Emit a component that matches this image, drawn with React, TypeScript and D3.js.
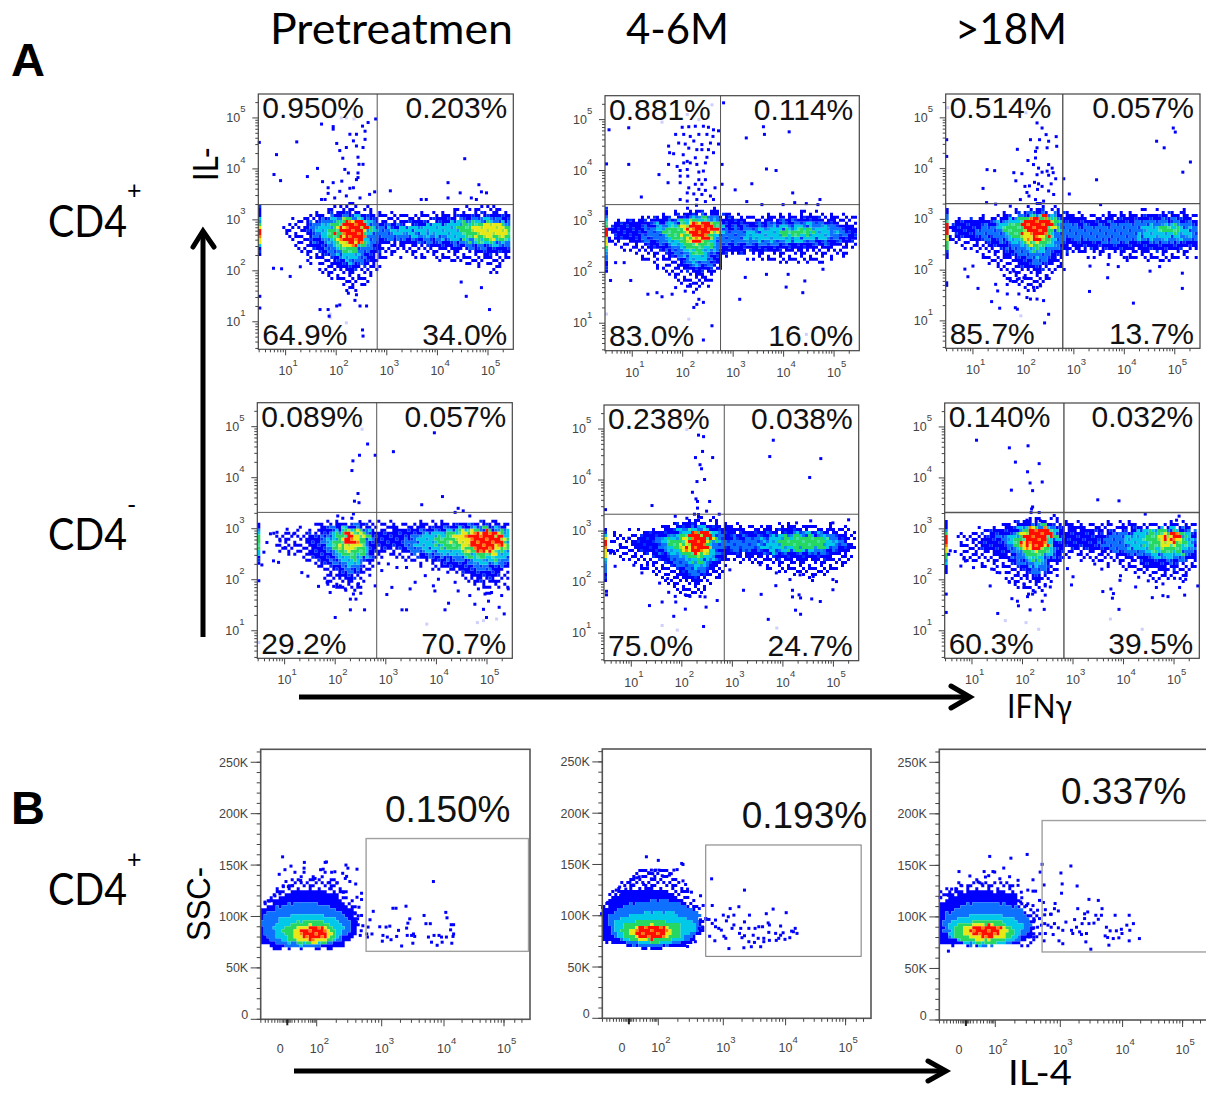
import React from "react";
import * as d3 from "d3";

// ---------- Labels ----------
const columnTitles = ["Pretreatmen", "4-6M", ">18M"];
const quadrantLabels = [
  ["0.950%", "0.203%", "64.9%", "34.0%"],
  ["0.881%", "0.114%", "83.0%", "16.0%"],
  ["0.514%", "0.057%", "85.7%", "13.7%"],
  ["0.089%", "0.057%", "29.2%", "70.7%"],
  ["0.238%", "0.038%", "75.0%", "24.7%"],
  ["0.140%", "0.032%", "60.3%", "39.5%"],
];
const gateLabels = ["0.150%", "0.193%", "0.337%"];
const decadeTicks = [1, 2, 3, 4, 5];
const ssc_ticks = [0, 50, 100, 150, 200, 250];

// ---------- Quadrant gates (log10 IFNg, log10 IL-) ----------
const quadGateX = [2.81, 2.75, 2.78, 2.82, 2.84, 2.82];
const quadGateY = [3.3, 3.33, 3.31, 3.32, 3.33, 3.32];

// ---------- Density outlines: sparse, blue, azure, cyan, green, yellow, red (log10 x, log10 y) ----------
const density11 = [
  [[1.0,2.9,1.6,3.15,2.2,3.35,2.8,3.2,3.4,3.1,4.2,3.2,5.0,3.3,5.5,3.2,5.5,2.15,5.1,1.95,4.8,2.1,4.0,2.2,3.2,2.3,2.85,2.1,2.6,1.75,2.3,1.55,2.0,1.75,1.6,2.1,1.1,2.5]],
  [[1.35,2.9,1.7,3.05,2.2,3.15,2.65,3.12,2.9,2.95,3.4,2.95,4.0,3.02,4.6,3.1,5.2,3.12,5.5,3.05,5.5,2.4,5.1,2.3,4.7,2.4,4.0,2.48,3.2,2.55,2.9,2.5,2.7,2.2,2.4,1.95,2.15,2.0,1.8,2.3,1.4,2.6]],
  [[1.5,2.9,1.9,3.05,2.3,3.1,2.65,3.05,2.85,2.9,3.2,2.85,3.9,2.9,4.5,3.0,5.1,3.05,5.5,2.98,5.5,2.5,5.0,2.42,4.6,2.5,4.0,2.58,3.2,2.62,2.85,2.6,2.6,2.3,2.4,2.1,2.1,2.2,1.8,2.45,1.5,2.7]],
  [[1.65,2.9,2.0,3.0,2.4,3.08,2.65,3.0,2.75,2.8,2.55,2.45,2.3,2.15,2.15,2.25,1.85,2.55,1.65,2.75],[3.05,2.82,3.6,2.85,4.3,2.95,5.0,3.0,5.5,2.92,5.5,2.58,5.0,2.5,4.6,2.58,3.9,2.68,3.3,2.7,3.05,2.72]],
  [[1.85,2.88,2.2,3.03,2.55,3.02,2.68,2.8,2.5,2.5,2.3,2.25,2.15,2.35,1.95,2.6,1.85,2.75],[4.4,2.9,4.9,2.97,5.45,2.9,5.5,2.65,5.0,2.55,4.6,2.62,4.4,2.75]],
  [[2.0,2.85,2.25,3.0,2.55,2.98,2.62,2.75,2.45,2.5,2.25,2.4,2.1,2.55],[4.75,2.88,5.1,2.96,5.4,2.85,5.35,2.68,5.0,2.62,4.75,2.72]],
  [[2.04,2.85,2.28,3.0,2.55,2.95,2.6,2.72,2.42,2.52,2.2,2.52,2.05,2.7]],
];
const density12 = [
  [[0.55,3.0,1.5,3.12,2.2,3.3,2.7,3.2,3.4,3.12,4.2,3.2,5.0,3.2,5.5,3.05,5.5,2.5,4.8,2.2,4.0,2.15,3.2,2.3,2.85,2.3,2.6,1.8,2.3,1.55,1.9,1.75,1.5,2.15,1.0,2.4,0.55,2.6]],
  [[0.55,2.95,1.3,3.03,1.9,3.12,2.6,3.18,2.85,3.1,3.4,3.0,4.0,3.08,4.6,3.1,5.1,3.0,5.45,2.85,5.45,2.65,5.0,2.5,4.0,2.42,3.3,2.4,2.85,2.4,2.65,2.1,2.35,1.9,2.1,2.0,1.8,2.3,1.4,2.5,1.0,2.62,0.55,2.7]],
  [[1.2,2.88,1.8,3.0,2.3,3.13,2.75,3.1,2.85,2.85,3.2,2.88,4.0,2.98,4.7,2.98,5.2,2.85,5.2,2.65,4.7,2.58,4.0,2.55,3.2,2.55,2.85,2.55,2.6,2.25,2.35,2.05,2.1,2.2,1.7,2.5,1.2,2.7]],
  [[1.5,2.9,1.9,3.0,2.3,3.1,2.72,3.05,2.8,2.8,2.55,2.4,2.3,2.15,2.05,2.35,1.7,2.6],[3.2,2.75,3.8,2.88,4.5,2.93,5.0,2.85,5.0,2.68,4.4,2.62,3.7,2.62,3.2,2.65]],
  [[1.65,2.85,2.0,2.98,2.35,3.06,2.68,3.0,2.72,2.8,2.5,2.5,2.3,2.32,2.05,2.5,1.75,2.68],[3.9,2.82,4.5,2.86,4.6,2.74,4.0,2.72]],
  [[1.95,2.85,2.2,3.0,2.6,2.98,2.65,2.8,2.45,2.58,2.25,2.52,2.05,2.68]],
  [[2.06,2.85,2.3,3.0,2.58,2.97,2.62,2.8,2.45,2.64,2.25,2.62,2.08,2.75]],
];
const density13 = [
  [[0.55,3.0,1.3,3.05,1.8,3.2,2.4,3.3,2.9,3.1,3.5,3.1,4.2,3.18,5.0,3.2,5.5,3.1,5.5,2.3,5.0,2.15,4.3,2.2,3.5,2.25,2.9,2.3,2.65,1.85,2.3,1.6,1.8,1.65,1.5,2.0,1.1,2.35,0.55,2.55]],
  [[0.55,2.95,1.3,3.0,1.8,3.1,2.3,3.2,2.7,3.15,2.9,3.02,3.5,3.0,4.2,3.08,5.0,3.1,5.5,3.0,5.5,2.5,5.0,2.38,4.2,2.4,3.4,2.4,2.85,2.45,2.6,2.15,2.3,1.95,1.9,2.1,1.5,2.45,1.0,2.6,0.55,2.7]],
  [[1.1,2.85,1.7,3.0,2.2,3.15,2.65,3.13,2.85,2.95,3.3,2.88,4.2,2.95,5.0,3.0,5.5,2.9,5.5,2.6,4.9,2.5,4.3,2.55,3.4,2.55,2.85,2.6,2.55,2.3,2.3,2.1,2.0,2.3,1.6,2.55,1.1,2.7]],
  [[1.45,2.9,1.85,3.02,2.25,3.1,2.65,3.08,2.75,2.9,2.55,2.45,2.3,2.25,2.0,2.4,1.6,2.65],[4.3,2.85,4.8,2.92,5.3,2.85,5.3,2.65,4.8,2.6,4.3,2.65]],
  [[1.65,2.88,2.0,3.02,2.3,3.08,2.62,3.05,2.68,2.85,2.45,2.5,2.25,2.35,2.0,2.55,1.7,2.72],[4.7,2.85,5.05,2.88,5.15,2.75,4.75,2.72]],
  [[1.92,2.85,2.1,3.0,2.4,3.07,2.58,2.97,2.55,2.78,2.35,2.55,2.15,2.5,1.95,2.7]],
  [[1.98,2.85,2.15,3.03,2.42,3.05,2.55,2.93,2.47,2.7,2.25,2.58,2.03,2.72]],
];
const density21 = [
  [[0.8,2.9,1.4,3.0,2.0,3.2,2.6,3.15,3.2,3.1,4,3.15,5.5,3.15,5.5,1.9,5.0,1.75,4.4,2.1,3.5,2.3,3.0,2.5,2.75,2.2,2.5,1.7,2.0,1.8,1.6,2.3,1.2,2.45,0.8,2.55]],
  [[1.4,2.8,1.7,2.98,2.1,3.12,2.65,3.05,2.85,2.95,3.5,3.02,4.2,3.08,5.0,3.12,5.5,3.05,5.5,2.45,5.2,2.05,4.9,1.95,4.5,2.2,3.9,2.4,3.4,2.55,3.0,2.6,2.72,2.5,2.5,2.1,2.25,1.95,1.95,2.2,1.6,2.45]],
  [[1.75,2.85,2.0,3.0,2.4,3.05,2.68,3.0,2.72,2.65,2.55,2.3,2.3,2.15,2.05,2.3,1.8,2.55],[3.4,2.85,4.0,2.97,4.6,3.05,5.5,3.0,5.5,2.5,5.2,2.25,4.9,2.15,4.6,2.35,4.1,2.45,3.4,2.55]],
  [[1.85,2.85,2.1,3.0,2.45,3.03,2.65,2.95,2.68,2.65,2.5,2.35,2.3,2.25,2.0,2.45],[3.6,2.85,4.1,2.95,4.6,3.02,5.45,2.97,5.5,2.55,5.2,2.35,4.9,2.3,4.5,2.45,3.9,2.55,3.6,2.65]],
  [[1.95,2.85,2.2,2.98,2.5,3.0,2.62,2.9,2.62,2.65,2.42,2.42,2.2,2.45,2.0,2.62],[4.0,2.85,4.5,2.97,5.0,3.0,5.4,2.92,5.42,2.6,5.1,2.42,4.8,2.45,4.3,2.6,4.0,2.68]],
  [[2.1,2.8,2.3,2.95,2.55,2.88,2.5,2.62,2.3,2.55,2.12,2.65],[4.3,2.85,4.6,2.93,5.0,2.98,5.35,2.85,5.3,2.58,5.0,2.5,4.6,2.6,4.35,2.72]],
  [[2.18,2.8,2.32,2.92,2.47,2.84,2.42,2.68,2.28,2.64],[4.6,2.87,4.95,2.98,5.3,2.87,5.25,2.6,5.0,2.52,4.68,2.63]],
];
const density22 = [
  [[0.6,2.95,1.2,3.0,1.8,3.15,2.4,3.3,2.9,3.12,3.6,3.1,4.4,3.15,5.1,3.1,5.5,2.95,5.5,2.6,5.1,2.2,4.5,2.05,3.9,2.2,3.0,2.4,2.7,2.05,2.4,1.75,2.0,1.7,1.6,2.1,1.1,2.35,0.6,2.55]],
  [[1.0,2.85,1.7,3.05,2.1,3.15,2.6,3.15,2.85,3.02,3.5,3.0,4.2,3.05,5.0,3.02,5.3,2.85,5.3,2.62,4.9,2.45,4.2,2.42,3.6,2.5,3.0,2.55,2.8,2.45,2.55,2.15,2.3,1.98,2.0,2.1,1.7,2.4,1.2,2.6]],
  [[1.45,2.85,1.9,3.0,2.3,3.1,2.65,3.05,2.8,2.85,3.4,2.88,4.2,2.97,4.9,2.95,5.2,2.8,5.1,2.62,4.5,2.55,3.6,2.6,2.8,2.65,2.55,2.3,2.3,2.1,2.0,2.3,1.6,2.6]],
  [[1.6,2.85,1.95,2.98,2.3,3.08,2.65,3.03,2.72,2.8,2.55,2.42,2.3,2.25,2.0,2.42,1.7,2.65],[3.5,2.78,3.9,2.92,4.6,2.95,5.05,2.85,5.0,2.65,4.4,2.58,3.7,2.62]],
  [[1.75,2.82,2.05,2.96,2.35,3.03,2.6,2.98,2.65,2.78,2.48,2.5,2.28,2.38,2.05,2.55,1.8,2.7],[3.9,2.85,4.4,2.92,4.9,2.85,4.85,2.68,4.3,2.62,3.9,2.7]],
  [[1.98,2.8,2.2,2.96,2.42,3.0,2.58,2.9,2.55,2.68,2.38,2.5,2.18,2.55,2.0,2.68]],
  [[2.08,2.78,2.25,2.98,2.42,3.0,2.55,2.87,2.5,2.62,2.32,2.54,2.12,2.66]],
];
const density23 = [
  [[0.7,2.9,1.3,3.0,1.9,3.2,2.5,3.28,3.0,3.1,4.0,3.12,5.0,3.18,5.5,3.1,5.5,2.3,5.2,2.0,4.7,1.95,4.0,2.2,3.2,2.4,2.8,2.4,2.6,1.95,2.3,1.75,1.9,1.85,1.5,2.2,1.0,2.35,0.7,2.5]],
  [[1.1,2.8,1.5,3.0,2.0,3.12,2.5,3.15,2.8,3.02,3.4,2.95,4.2,3.0,5.0,3.05,5.5,2.98,5.5,2.45,5.1,2.3,4.8,2.2,4.4,2.3,3.8,2.55,2.95,2.6,2.75,2.5,2.5,2.2,2.25,2.0,2.0,2.15,1.7,2.45,1.3,2.6]],
  [[1.55,2.8,1.85,3.0,2.2,3.1,2.6,3.08,2.75,2.9,2.55,2.4,2.3,2.1,2.05,2.3,1.7,2.55],[3.6,2.85,4.2,2.95,5.0,3.02,5.4,2.95,5.4,2.5,5.0,2.35,4.5,2.42,3.9,2.55,3.6,2.65]],
  [[1.72,2.85,2.0,3.02,2.35,3.08,2.62,3.02,2.72,2.85,2.5,2.45,2.3,2.2,2.05,2.4,1.8,2.65],[4.0,2.85,4.4,2.97,5.0,3.0,5.35,2.92,5.3,2.55,5.0,2.42,4.6,2.48,4.1,2.65]],
  [[1.82,2.85,2.1,3.02,2.4,3.05,2.6,2.97,2.62,2.8,2.42,2.5,2.25,2.35,2.05,2.5,1.85,2.68],[4.35,2.85,4.7,2.97,5.1,2.97,5.25,2.85,5.15,2.55,4.85,2.5,4.5,2.6]],
  [[1.92,2.85,2.15,3.0,2.45,3.03,2.55,2.9,2.48,2.68,2.25,2.52,2.05,2.62],[4.65,2.82,4.9,2.95,5.15,2.88,5.05,2.65,4.75,2.62]],
  [[1.98,2.82,2.2,3.0,2.47,3.02,2.56,2.87,2.44,2.66,2.22,2.58,2.03,2.68],[4.9,2.92,5.14,2.9,5.08,2.76,4.86,2.76]],
];

// Pile-up on the left axis: [density level, log10 low, log10 high]
const rail11 = [[1,2.3,3.3],[3,2.45,3.05],[4,2.5,2.95],[5,2.55,2.9],[6,2.62,2.85]];
const rail12 = [[1,2.0,3.3],[2,2.25,3.1],[3,2.35,3.05],[4,2.45,3.0],[5,2.55,2.9],[6,2.68,2.85]];
const rail13 = [[1,2.2,3.2],[2,2.35,3.1],[4,2.4,3.0],[5,2.55,2.95],[6,2.68,2.92]];
const rail21 = [[1,2.3,3.1],[3,2.5,2.98],[4,2.6,2.9]];
const rail22 = [[1,2.0,3.05],[2,2.2,3.0],[3,2.35,2.95],[5,2.5,2.88],[6,2.62,2.8]];
const rail23 = [[1,2.1,3.15],[3,2.3,3.0],[4,2.4,2.95],[5,2.55,2.9],[6,2.65,2.88]];

// ---------- Individual events (log10 x, log10 y) ----------
const events11 = [1.71,4.88,1.94,4.83,1.94,4.78,.48,4.52,1.22,4.53,.82,4.28,2.01,4.5,2.27,4.68,2.4,4.68,2.52,4.84,2.57,4.74,2.63,4.91,2.4,4.45,2.34,4.55,2.53,4.42,2.57,4.58,2.07,4.36,2.2,4.42,2.13,4.21,2.43,4.23,2.45,4.09,2.53,4.09,2.17,3.99,2.24,3.92,2.43,3.92,2.43,3.83,.77,3.89,.9,3.77,1.43,3.85,1.63,4.01,1.73,3.75,1.94,3.73,2.11,3.76,2.4,3.79,2.34,3.63,2.27,3.62,1.84,3.63,1.84,3.52,2.07,3.56,1.71,3.4,1.78,3.4,1.97,3.43,2.2,3.47,2.47,3.43,2.66,3.5,2.76,3.55,2.78,4.98,
  4.54,4.2,3.07,3.57,3.68,3.4,3.78,3.4,4.21,3.73,4.45,3.53,4.21,3.43,4.82,3.69,4.87,3.55,4.97,3.53,4.67,3.43,4.77,3.4,
  1.86,1.11,1.68,1.24,1.84,1.24,2.01,1.31,2.07,1.33,2.24,1.56,2.4,1.53,2.37,1.42,2.47,1.31,2.6,1.31,2.52,.84,2.53,.72,4.57,1.5,4.87,1.67,5.03,1.24,4.47,1.78,.76,2.05,.92,2.04,1.09,1.89,1.29,2.08,.49,1.5,.49,1.27];
const events12 = [.54,4.8,.93,4.84,.49,4.13,.93,4.12,1.53,3.92,1.71,3.76,1.18,3.48,2.81,5.33,1.99,4.85,2.12,4.86,2.25,4.87,2.41,4.87,2.51,4.85,2.61,4.8,2.71,4.78,1.86,4.71,2.02,4.71,2.15,4.67,2.32,4.71,2.48,4.71,2.6,4.67,1.92,4.54,2.05,4.52,2.22,4.58,2.38,4.51,2.55,4.54,2.71,4.52,1.72,4.48,1.74,4.35,1.82,4.33,2.01,4.31,2.12,4.44,2.28,4.41,2.38,4.41,2.51,4.41,2.61,4.35,2.09,4.18,2.25,4.25,2.48,4.26,2.45,4.15,1.72,4.12,1.89,4.08,2.02,4.15,2.15,4.15,2.28,4.12,1.95,4.0,2.09,4.02,2.32,3.97,2.41,3.99,1.95,3.89,2.1,3.89,2.32,3.82,2.45,3.82,1.95,3.76,2.25,3.73,2.38,3.73,2.64,3.66,2.12,3.66,2.32,3.63,2.45,3.61,2.09,3.56,2.22,3.54,2.38,3.53,2.55,3.5,1.95,3.43,2.09,3.4,2.28,3.43,2.45,3.39,2.61,3.43,2.78,4.12,2.78,3.73,
  3.6,4.86,3.62,4.71,3.26,4.64,4.11,4.76,3.66,4.03,3.85,4.0,3.37,3.74,3.04,3.62,4.18,3.56,3.27,3.39,3.57,3.33,3.99,3.33,4.22,3.37,4.45,3.35,4.72,3.43,4.68,3.33,
  1.31,1.57,1.49,1.6,1.59,1.52,1.79,1.57,1.86,1.7,2.05,1.63,2.15,1.76,2.32,1.47,2.28,1.37,2.22,1.31,2.41,1.41,2.58,.95,2.41,.67,3.13,1.47,4.05,1.71,4.42,1.83,4.38,1.6,.57,1.84,.97,1.84,.67,2.19,.84,2.19,3.24,1.9,3.66,1.96,4.09,1.96,4.78,2.06];
const events13 = [.48,4.57,.48,4.24,2.27,4.9,2.37,4.8,2.45,4.67,2.65,4.63,2.5,4.54,2.32,4.57,2.14,4.57,2.66,4.44,2.47,4.41,2.27,4.41,1.88,4.38,2.24,4.34,2.09,4.16,2.24,4.21,2.2,4.08,2.3,4.01,2.5,4.08,2.57,4.01,1.28,3.98,1.43,3.96,1.81,3.92,1.97,3.9,2.37,3.93,2.27,3.88,2.47,3.95,2.5,3.87,2.59,3.92,1.85,3.76,2.03,3.65,2.12,3.66,2.22,3.73,2.3,3.7,2.37,3.65,2.55,3.7,2.64,3.8,2.8,3.8,1.2,3.61,2.28,3.59,2.5,3.56,2.07,3.53,2.11,3.46,2.6,3.49,1.94,3.39,2.24,3.39,2.4,3.36,1.27,3.33,1.45,3.3,1.74,3.26,
  4.97,4.8,5.01,4.72,4.64,4.54,4.79,4.41,5.31,4.13,5.16,3.93,3.45,3.78,2.91,3.5,3.53,3.29,
  .84,2.02,1.0,2.08,.9,1.87,1.1,1.64,1.37,1.38,1.53,1.25,1.45,1.72,1.49,1.59,1.84,1.26,1.88,1.23,2.14,1.43,2.27,1.43,2.4,1.4,2.5,1.13,2.42,.96,1.68,1.53,1.91,1.53,2.07,1.46,2.2,1.66,2.34,1.69,2.47,1.89,1.74,1.79,1.81,1.98,1.88,1.82,2.01,1.85,3.31,1.58,4.18,1.35,3.67,1.85,3.88,2.07,4.51,1.98,4.7,2.07,5.15,1.94,5.15,1.64,3.32,2.08,3.68,2.11,4.05,2.25,.48,1.75,.48,1.7];
const events21 = [2.64,4.66,2.48,4.44,2.35,4.33,2.33,4.14,2.45,3.69,2.38,3.54,2.47,3.51,2.79,4.44,2.05,3.25,2.36,3.29,2.49,3.14,
  3.96,4.88,3.15,4.51,4.12,3.63,3.71,3.47,4.43,3.4,4.53,3.35,4.37,3.32,4.66,3.25,
  2.0,1.26,2.3,1.41,2.58,1.41,2.3,1.62,2.41,1.62,2.36,1.72,1.67,1.87,1.84,1.95,1.9,1.75,1.97,1.87,1.46,2.07,1.34,2.14,.49,1.98,2.79,1.88,2.1,1.88,2.2,1.82,2.46,1.92,
  3.02,1.71,3.12,1.85,3.32,1.41,3.41,1.41,3.48,1.82,3.58,1.95,3.94,1.88,3.97,1.78,4.17,1.41,4.24,1.54,4.43,1.78,4.66,1.69,4.76,1.52,4.93,1.42,4.99,1.26,5.03,1.58,5.24,1.46,5.34,1.33,5.42,1.82,5.29,1.69,5.09,1.75,4.96,1.72,4.83,1.82,4.37,1.95,4.04,2.01,3.78,2.08,3.22,2.24,2.92,2.18,3.05,2.31,3.41,2.24,
  .55,2.29,.88,2.34,.78,2.37,.72,2.9,.85,2.93,1.05,2.99,1.18,2.9,1.31,3.03,.91,2.76,1.01,2.63,.59,2.54,.65,2.73];
const events22 = [2.33,4.88,2.43,4.85,2.41,4.56,2.27,4.44,2.61,4.44,2.36,4.3,2.39,4.22,2.3,3.97,2.45,4.01,2.21,3.76,2.28,3.63,2.31,3.58,2.55,3.58,2.31,3.45,2.49,3.39,1.41,3.5,.49,3.42,2.25,3.33,2.74,3.33,1.87,3.29,2.1,3.25,2.33,3.27,
  3.81,4.78,3.74,4.46,4.75,4.42,4.53,4.05,4.55,3.2,5.3,3.22,4.27,3.16,4.99,3.16,
  1.56,1.98,1.72,2.07,1.74,1.8,1.36,1.54,1.61,1.61,1.87,1.72,1.88,1.61,2.07,1.75,2.16,1.72,2.36,1.72,2.46,1.71,2.7,1.64,2.07,1.47,1.84,1.33,2.48,1.51,2.43,1.13,
  3.22,1.84,3.57,1.76,3.86,1.93,4.19,1.84,4.19,1.71,4.32,1.75,4.35,1.69,4.57,1.67,4.74,1.62,4.25,1.45,4.35,1.37,3.71,1.27,4.99,1.85,4.14,2.05,4.34,2.14,4.6,2.11,4.99,2.05,5.06,2.01,3.87,2.18,3.55,2.34,2.95,2.24,
  .68,2.31,1.05,2.33,1.21,2.18,1.32,2.33,.51,1.82,.51,1.75,.59,2.57,.78,2.73,.95,2.86,.65,2.6];
const events23 = [1.09,4.74,1.74,4.59,2.11,4.63,1.86,4.31,2.33,4.28,2.1,4.12,2.15,3.9,2.39,3.92,1.78,3.76,2.2,3.75,2.2,3.43,2.18,3.39,2.17,3.32,2.09,3.17,2.35,3.16,
  3.49,3.57,3.91,3.55,4.43,3.29,5.1,3.25,5.05,3.17,
  1.36,1.88,1.74,1.95,1.79,1.63,1.9,1.58,1.92,1.49,1.51,1.34,2.15,1.41,2.03,1.92,2.03,1.85,2.12,1.72,2.1,1.67,2.25,1.76,2.2,1.72,2.39,1.58,2.45,1.7,2.43,1.42,2.55,1.86,2.45,1.88,
  .78,2.27,.87,2.37,1.03,2.24,.84,2.41,1.39,2.21,1.55,2.14,.49,1.36,.49,1.72,.54,2.5,.57,2.57,
  2.89,2.22,3.0,2.06,2.97,1.9,3.43,2.31,3.57,2.21,3.59,1.77,3.75,1.82,3.8,1.73,3.78,1.64,3.91,1.42,3.93,1.99,3.94,2.08,4.24,1.86,4.3,2.05,4.65,1.85,4.57,1.65,4.78,1.69,4.88,1.67,5.01,2.03,5.11,1.85,5.21,1.7,5.23,2.01,5.47,1.88,4.78,1.92,4.49,1.98];

const faint11 = [1.88,1.15,1.88,1.08,2.2,.98,2.1,5.0,2.2,5.0,2.35,4.98];
const faint12 = [2.12,1.08,4.45,.78,.49,1.18,2.09,5.1,2.32,5.0,2.58,5.29,1.59,4.95];
const faint13 = [1.95,1.1,.5,5.2,2.05,5.3,2.2,5.25,2.05,5.1];
const faint21 = [3.81,1.13,4.81,1.16,4.93,1.2,5.19,1.23,.49,.77,2.53,4.95];
const faint22 = [1.61,1.15,1.91,1.06,3.88,1.1,2.1,4.99];
const faint23 = [1.66,1.2,2.07,1.16,2.32,1.03,4.37,1.03,3.74,1.23];

// ---------- Panel B: outlines in (display decade, SSC in K) ----------
const bGates = [[2.76,5.41,66.1,175.8],[2.73,5.26,60.4,169],[2.72,5.6,66,193.5]];
const bBlue1 = [-1.8,72,-1.8,104,-.73,117,.41,125,1.77,126,2.31,121,2.51,107,2.62,91,2.56,78,2.31,69,-.95,68.6,-1.75,74];
const bBlue2 = [-1.86,104,-1.33,113,-.86,120,-.05,125,1.12,127,2.11,124,2.37,114,2.57,102,2.68,94,2.68,84,2.47,71,1.12,67,-1.79,75];
const bBlue3 = [-1.8,112,-1.19,120,-.07,124,1.28,125,2.25,124,2.35,112,2.45,98,2.55,85.5,2.5,75.8,2.09,72,-.52,72,-1.75,73];
const bSparse1 = [-1.8,104,-1.6,116,-.6,128,.4,137,1.8,139,2.3,136,2.55,118,2.68,100,2.7,85,2.4,69,-1.75,72];
const bSparse2 = [-1.86,110,-1.2,125,-.4,135,1.0,146,2.1,146,2.45,128,2.68,105,2.75,90,2.47,71,-1.79,75];
const bSparse3 = [-1.8,125,-.6,133,1.3,136,2.25,132,2.4,122,2.6,105,2.7,85,2.55,72,-1.8,72];
// azure, cyan, green, yellow, red: [left, right, low, high]
const bLevels1 = [[-1.75,2.51,69.4,114],[-.95,2.41,72,102.6],[-.27,2.31,73,96],[.41,2.23,75,92],[.85,2.17,76.5,90]];
const bLevels2 = [[-1.44,2.65,69.8,115],[-1.09,2.55,72,104],[-.63,2.37,73.7,96],[-.05,2.21,76.3,91.6],[.4,2.13,77,90]];
const bLevels3 = [[-1.53,2.55,71.6,114.5],[-1.19,2.43,72.6,103],[-.85,2.3,74,96.8],[-.18,2.19,77.4,93.5],[.25,2.09,79.5,93]];
const bEvents1 = [-.32,158,-.55,141,-.16,145.5,.25,149,.52,143,1.16,152.6,1.14,147,1.14,143,2.13,152.6,2.15,153,2.06,145.5,2.1,146,2.13,143,2.23,143,2.28,143.5,2.45,150,2.48,147,2.62,146,2.4,142,2.44,137,2.51,134,2.46,139,2.6,131.6,1.89,137,.91,135,-.09,134,-.27,129,.07,129,.36,130,-1.52,114,-1.23,115,-.84,120,-.5,122,2.2,133,2.31,132.6,2.2,127,2.41,123.5,2.69,122.6,2.62,118.7,2.69,116.5,2.65,109,2.59,102.6,2.69,101,2.63,97.7,2.71,91,2.61,94.5,2.67,81.6,2.77,83,2.79,89.7,
  2.87,105,2.82,96.8,2.85,83,2.78,80,2.97,90,3.01,76,3.02,81.6,3.07,89.7,3.09,80,3.13,90.6,3.15,77.4,3.18,108,3.23,108,3.24,80.6,3.27,86.5,3.32,71.3,3.39,110,3.45,97.7,3.42,93.5,3.4,88.7,3.41,81.6,3.48,81.6,3.51,83,3.5,74,3.53,80.6,3.68,101,3.71,93,3.78,93,3.83,134,3.75,80,3.8,75,3.84,81.6,3.89,72,3.92,81.6,3.97,75,3.96,80,4.04,80,4.03,104,4.05,98.7,4.12,92,4.16,92,4.11,87,4.16,83,4.15,80.6,4.13,74];
const bEvents2 = [1.19,157.5,2,154,2.36,151,2.38,150,2.29,145,2.24,144.5,2.01,144.5,1.81,144.5,1.53,144.5,1.35,142,1.63,141,.53,137,.7,138,1.53,136,2.06,139,2.17,139.6,2.2,141,2.38,134,2.42,130.5,2.45,126,2.51,123,2.65,119.5,2.69,110,2.55,109,2.63,107,-.63,128,-.86,125,-.56,120,-.21,126,-1.44,113,-1.79,108,-1.86,102,.07,132.5,.3,130,1,130.5,2.65,96,2.68,89,2.63,87.7,2.57,74.7,2.45,70,
  2.82,136,2.83,110,2.74,96.4,2.78,96.4,2.83,92.5,2.88,95.8,2.88,89.3,2.93,87.7,2.97,86,2.79,80,2.87,75.6,3,100.6,3.01,80,3.04,78,3.05,95,3.08,99,3.11,107,3.17,100.6,3.17,91,3.14,87.7,3.09,68,3.25,108.8,3.28,87.7,3.26,82.8,3.3,78.6,3.34,125,3.34,94,3.34,80.5,3.41,87.7,3.42,100.6,3.41,74.7,3.33,68.8,3.45,69.8,3.48,81,3.5,74,3.51,87.7,3.57,89.3,3.56,78,3.63,89.3,3.65,78,3.65,74.7,3.6,69.8,3.72,93,3.73,83.8,3.69,102,3.74,91,3.74,76,3.8,106.5,3.84,82.8,3.85,76,3.89,78,3.92,90,3.92,81,3.96,83.4,3.99,77,4.01,103,4.07,78.6,4.1,85,4.16,87.7,4.19,82.8,4.13,84.4];
const bEvents3 = [1.62,158.7,2.24,157,2.49,160.6,2.13,147.4,-.47,144,1.24,144,1.84,144,.27,139.7,1.33,138.7,1.55,140,1.96,143.5,2.07,137,2.22,139,2.35,135.5,2.58,136,.83,133.9,-.34,130.6,-.63,127,-.97,127,-1.19,121,-1.75,119,1.1,132,2.35,130.6,2.5,126,2.58,125,2.62,125,2.4,124,2.39,114.5,2.48,111,2.58,111,2.68,116,2.65,106.5,2.6,96.8,2.68,98.4,2.58,88.7,2.65,90,2.71,92,2.59,80.6,2.52,80.6,-1.19,66.8,
  2.72,151,2.69,143.5,3.01,142.6,3.17,149.4,3.03,132,3.27,130,3.02,123,2.75,131,2.74,114,2.77,107,2.86,102.6,2.91,108,2.92,113,2.97,105.8,2.76,102,2.85,102.6,2.76,93.5,2.81,92,2.86,90,2.91,93.5,2.97,89.4,2.77,83.9,2.89,82.9,2.75,76.8,2.98,76.8,3.04,74,3.04,87,3.09,95,3.18,87,3.2,83.9,3.23,97.4,3.28,108,3.26,90,3.31,85.5,3.34,83,3.39,98.4,3.39,103,3.44,104.8,3.46,117,3.41,75.8,3.49,68.7,3.42,83.9,3.35,93.5,3.46,93.5,3.57,101.6,3.61,116,3.61,97.7,3.54,94,3.66,101.6,3.67,108,3.74,90,3.72,81.6,3.76,80,3.78,72.6,3.8,86.5,3.85,79,3.88,101.6,3.9,86.5,3.94,79.7,3.98,88,3.99,83.9,4.07,92,4.11,101.6,4.12,87,4.11,76.8,4.18,93.5,4.28,79];
const biexLowTicks = [-1.8,-1.5,-1.3,-1.05,-.85,-.65,-.5,-.35,-.25,-.15,-.05,0,.06,.12,.2,.32,.5,.75,1.0,1.2,1.45,1.6,1.72,1.82,1.9];

// ---------- Look ----------
const levelColors = ["#0000ff", "#0000ff", "#0a70ff", "#00c8e8", "#28d860", "#e8e818", "#ff1000"];
const grainColors = ["#0000ff", "#0030ff", "#0030ff", "#0a90f0", "#40e0a0", "#a0e030", "#ff7a00"];
const sparseMask = ["#..#..#", "..##.#.", ".#..#.#", "#.##...", "..#..#.", "#..#.##", ".##.#.."];
const grainMask = [".#...", "...#.", "#....", "..#..", "....#"];
const jitterX = [-5, 3, 0, 6, -2, -6, 4, 1, -4, 5, -1, 2, -3];
const jitterY = [2, -4, 3, 0, -2, 4, -3, 1, -1, -4, 3, 0, 2, -2, 4, -1, 1];
const SANS = "'Liberation Sans', Arial, sans-serif";
const LATO = "Lato, 'Noto Sans', sans-serif";
const CELL = 3;

const A_FRAMES = [
  [258.3, 513.3, 94, 349.3], [605, 859.3, 95.7, 350.7], [945.7, 1200, 94, 348.3],
  [257.3, 512.3, 402.7, 658.3], [604, 858.7, 405, 660.7], [944.7, 1199.3, 403, 658.3],
];
const B_FRAMES = [[260.7, 530, 749.3, 1019.3], [602.3, 871, 749, 1018.3], [939.3, 1208, 749.3, 1020]];
const densities = [density11, density12, density13, density21, density22, density23];
const rails = [rail11, rail12, rail13, rail21, rail22, rail23];
const events = [events11, events12, events13, events21, events22, events23];
const faints = [faint11, faint12, faint13, faint21, faint22, faint23];

const pairsOf = (flat: number[]) => {
  const out: [number, number][] = [];
  for (let i = 0; i + 1 < flat.length; i += 2) out.push([flat[i], flat[i + 1]]);
  return out;
};

type Test = (x: number, y: number, cx: number, cy: number) => boolean;

function rasterise(frame: number[], tests: Test[][], jit: number, grained: boolean) {
  const [l, r, t, b] = frame;
  const paths: Record<string, string> = {};
  const nx = Math.floor((r - l) / CELL);
  const ny = Math.floor((b - t) / CELL);
  const cols = d3.range(nx), rows = d3.range(ny);
  for (const j of rows) {
    for (const i of cols) {
      const cx = l + (i + 0.5) * CELL, cy = t + (j + 0.5) * CELL;
      const sx = Math.min(r - 1, Math.max(l + 1, cx + jit * jitterX[(i * 5 + j * 3) % 13]));
      const sy = cy + jit * jitterY[(i * 3 + j * 7) % 17];
      let lv = -1;
      for (let k = tests.length - 1; k >= 0; k--) {
        if (tests[k].some((f) => f(sx, sy, cx, cy))) { lv = k; break; }
      }
      if (lv < 0) continue;
      if (lv === 0 && sparseMask[j % 7][i % 7] !== "#") continue;
      const grain = (grained || lv === 6) && grainMask[j % 5][i % 5] === "#";
      const col = grain ? grainColors[lv] : levelColors[lv];
      paths[col] = (paths[col] || "") + `M${(l + i * CELL).toFixed(1)} ${(t + j * CELL).toFixed(1)}h${CELL}v${CELL}h-${CELL}z`;
    }
  }
  return paths;
}

const Decade = ({ x, y, n, anchor = "start" }: any) => (
  <g fontFamily={SANS} fill="#444">
    <text x={x} y={y} fontSize={12.5} textAnchor={anchor}>10</text>
    <text x={x + 14} y={y - 9.5} fontSize={9.5}>{n}</text>
  </g>
);

function FlowPanel({ idx }: { idx: number }) {
  const [l, r, t, b] = A_FRAMES[idx];
  const x = d3.scaleLog().domain([10 ** 0.46, 10 ** 5.5]).range([l, r]);
  const y = d3.scaleLog().domain([10 ** 0.46, 10 ** 5.47]).range([b, t]);
  const px = (v: number) => x(10 ** v);
  const py = (v: number) => y(10 ** v);
  const tests: Test[][] = densities[idx].map((polys) =>
    polys.map((flat) => {
      const poly = pairsOf(flat).map(([a, c]) => [px(a), py(c)] as [number, number]);
      return (sx: number, sy: number) => d3.polygonContains(poly, [sx, sy]);
    })
  );
  rails[idx].forEach(([lv, lo, hi]) => {
    tests[lv].push((_sx, _sy, cx, cy) => cx < l + CELL && cy <= py(lo) && cy >= py(hi));
  });
  const paths = rasterise(A_FRAMES[idx], tests, 0.7, true);
  const minor = decadeTicks.concat([0]).flatMap((d) => [2, 3, 4, 5, 6, 7, 8, 9].map((m) => d + Math.log10(m))).filter((v) => v > 0.46 && v < 5.47);
  const labels = quadrantLabels[idx];
  const gx = px(quadGateX[idx]), gy = py(quadGateY[idx]);
  return (
    <g>
      <rect x={l} y={t} width={r - l} height={b - t} fill="#fff" />
      <g filter="url(#soft)">
        {Object.entries(paths).map(([c, d]) => <path key={c} d={d} fill={c} />)}
        {pairsOf(faints[idx]).map(([a, c], i) => <rect key={i} x={px(a) - 1.5} y={py(c) - 1.5} width={3} height={3} fill="#cfcfff" />)}
        {pairsOf(events[idx]).map(([a, c], i) => <rect key={i} x={px(a) - 1.5} y={py(c) - 1.5} width={3} height={3} fill="#0000ff" />)}
      </g>
      <line x1={gx} x2={gx} y1={t} y2={b} stroke="#555" strokeWidth={idx % 3 === 2 ? 1.4 : 1} />
      <line x1={l} x2={r} y1={gy} y2={gy} stroke="#555" strokeWidth={idx % 3 === 2 ? 1.4 : 1} />
      <rect x={l} y={t} width={r - l} height={b - t} fill="none" stroke="#444" strokeWidth={1.2} />
      {minor.map((v) => (
        <g key={v} stroke="#444">
          <line x1={px(v)} x2={px(v)} y1={b} y2={b + 3} />
          <line x1={l - 3} x2={l} y1={py(v)} y2={py(v)} />
        </g>
      ))}
      {decadeTicks.map((d) => (
        <g key={d}>
          <line x1={px(d)} x2={px(d)} y1={b} y2={b + 6} stroke="#444" />
          <line x1={l - 6} x2={l} y1={py(d)} y2={py(d)} stroke="#444" />
          <Decade x={px(d) - 7} y={b + 26} n={d} />
          <Decade x={l - 32} y={py(d) + 4} n={d} />
        </g>
      ))}
      <g fontFamily={SANS} fontSize={30} fill="#111">
        <text x={l + 4} y={t + 24}>{labels[0]}</text>
        <text x={r - 6} y={t + 24} textAnchor="end">{labels[1]}</text>
        <text x={l + 4} y={b - 4.5}>{labels[2]}</text>
        <text x={r - 6} y={b - 4.5} textAnchor="end">{labels[3]}</text>
      </g>
    </g>
  );
}

const bBlues = [bBlue1, bBlue2, bBlue3];
const bSparses = [bSparse1, bSparse2, bSparse3];
const bLevels = [bLevels1, bLevels2, bLevels3];
const bEvents = [bEvents1, bEvents2, bEvents3];
const bLabelPos = [[385, 822.3], [741.7, 828.3], [1061, 804.3]];

function SscPanel({ idx }: { idx: number }) {
  const [l, r, t, b] = B_FRAMES[idx];
  const x = d3.scaleLinear().domain([0, 2, 3, 4, 5, 5.43]).range([26.6, 56, 121, 183.3, 243.3, 269].map((v) => l + v));
  const px = (u: number) => (u < 0 ? l + 26.6 + u * 14.7 : x(u));
  const y = d3.scaleLinear().domain([0, 262.6]).range([b, t]);
  const polyTest = (flat: number[]): Test => {
    const poly = pairsOf(flat).map(([a, c]) => [px(a), y(c)] as [number, number]);
    return (sx, sy) => d3.polygonContains(poly, [sx, sy]);
  };
  const ellipseTest = ([ul, ur, klo, khi]: number[]): Test => {
    const x0 = px(ul), x1 = px(ur), y0 = y(khi), y1 = y(klo);
    const ex = (x0 + x1) / 2, ey = (y0 + y1) / 2, rx = (x1 - x0) / 2, ry = (y1 - y0) / 2;
    return (sx, sy) => ((sx - ex) / rx) ** 2 + ((sy - ey) / ry) ** 2 <= 1;
  };
  const tests: Test[][] = [[polyTest(bSparses[idx])], [polyTest(bBlues[idx])], ...bLevels[idx].map((e) => [ellipseTest(e)])];
  const paths = rasterise([l, r, t, b], tests, 0.3, false);
  const [gl, gr, glo, ghi] = bGates[idx];
  const logMinor = [2, 3, 4].flatMap((d) => [2, 3, 4, 5, 6, 7, 8, 9].map((m) => d + Math.log10(m))).concat([5.3, 5.18, 5.0]);
  const yMinor = d3.range(0, 261, 10);
  return (
    <g>
      <g filter="url(#soft)">
        {Object.entries(paths).map(([c, d]) => <path key={c} d={d} fill={c} />)}
        {pairsOf(bEvents[idx]).map(([a, c], i) => <rect key={i} x={px(a) - 1.5} y={y(c) - 1.5} width={3} height={3} fill="#0000ff" />)}
      </g>
      <rect x={px(gl)} y={y(ghi)} width={px(gr) - px(gl)} height={y(glo) - y(ghi)} fill="none" stroke={idx === 1 ? "#777" : "#a0a0a0"} strokeWidth={idx === 1 ? 1 : 1.4} />
      <rect x={l} y={t} width={r - l} height={b - t} fill="none" stroke="#555" strokeWidth={1.6} />
      {biexLowTicks.concat(logMinor).map((u) => (
        <line key={u} x1={px(u)} x2={px(u)} y1={b} y2={b + 3.5} stroke="#444" />
      ))}
      <line x1={px(0)} x2={px(0)} y1={b} y2={b + 6} stroke="#222" strokeWidth={2} />
      {[2, 3, 4, 5].map((d) => (
        <g key={d}>
          <line x1={px(d)} x2={px(d)} y1={b} y2={b + 7} stroke="#444" />
          <Decade x={px(d) - 7} y={b + 34} n={d} />
        </g>
      ))}
      <text x={px(0) - 7} y={b + 34} fontFamily={SANS} fontSize={12.5} fill="#444" textAnchor="middle">0</text>
      {yMinor.map((k) => <line key={k} x1={l - 4} x2={l} y1={y(k)} y2={y(k)} stroke="#444" />)}
      {ssc_ticks.map((k) => (
        <g key={k}>
          <line x1={l - 10} x2={l} y1={y(k)} y2={y(k)} stroke="#444" />
          <text x={l - 12.5} y={y(k) + (k === 0 ? 0 : 4.5)} fontFamily={SANS} fontSize={12.5} fill="#444" textAnchor="end">{k === 0 ? "0" : `${k}K`}</text>
        </g>
      ))}
      <text x={bLabelPos[idx][0]} y={bLabelPos[idx][1]} fontFamily={SANS} fontSize={37} fill="#111">{gateLabels[idx]}</text>
    </g>
  );
}

const Fit = ({ x, y, w, size, children, family = LATO, weight = 400, rotate = false }: any) => (
  <text
    x={rotate ? 0 : x}
    y={rotate ? 0 : y}
    transform={rotate ? `translate(${x},${y}) rotate(-90)` : undefined}
    fontFamily={family}
    fontSize={size}
    fontWeight={weight}
    textLength={w}
    lengthAdjust="spacingAndGlyphs"
    fill="#000"
  >
    {children}
  </text>
);

export default function App() {
  return (
    <svg width={1206} height={1093} style={{ position: "absolute", left: 0, top: 0, display: "block", background: "#fff" }}>
      <defs>
        <filter id="soft" x="-5%" y="-5%" width="110%" height="110%">
          <feGaussianBlur stdDeviation={0.45} />
        </filter>
      </defs>
      {A_FRAMES.map((_, i) => <FlowPanel key={i} idx={i} />)}
      {B_FRAMES.map((_, i) => <SscPanel key={i} idx={i} />)}

      <Fit x={270} y={44} w={243} size={42}>{columnTitles[0]}</Fit>
      <Fit x={626} y={44} w={103} size={42}>{columnTitles[1]}</Fit>
      <Fit x={955} y={44} w={112} size={42}>{columnTitles[2]}</Fit>

      <text x={11} y={76} fontFamily={SANS} fontWeight={700} fontSize={47}>A</text>
      <text x={11} y={824} fontFamily={SANS} fontWeight={700} fontSize={47}>B</text>

      <Fit x={48} y={237} w={79} size={44}>CD4</Fit>
      <text x={127} y={199} fontFamily={LATO} fontSize={25}>+</text>
      <Fit x={48} y={550} w={79} size={44}>CD4</Fit>
      <text x={127} y={514} fontFamily={LATO} fontSize={25}>-</text>
      <Fit x={48} y={905} w={79} size={44}>CD4</Fit>
      <text x={127} y={868} fontFamily={LATO} fontSize={25}>+</text>

      <Fit x={218} y={181} w={34} size={34} rotate>IL-</Fit>
      <Fit x={210} y={941} w={74} size={33} family={SANS} rotate>SSC-</Fit>
      <Fit x={1007} y={718} w={65} size={33}>IFNγ</Fit>
      <Fit x={1008} y={1085} w={64} size={35}>IL-4</Fit>

      <g fill="none" stroke="#000" strokeWidth={5}>
        <line x1={203} x2={203} y1={637} y2={232} />
        <polyline points="193,247 203,231 214,247" strokeLinecap="round" />
        <line x1={299} x2={968} y1={697} y2={697} />
        <polyline points="951,686 970,697 951,708" strokeLinecap="round" />
        <line x1={294} x2={944} y1={1071} y2={1071} />
        <polyline points="928,1061 946,1071 928,1081" strokeLinecap="round" />
      </g>
    </svg>
  );
}
